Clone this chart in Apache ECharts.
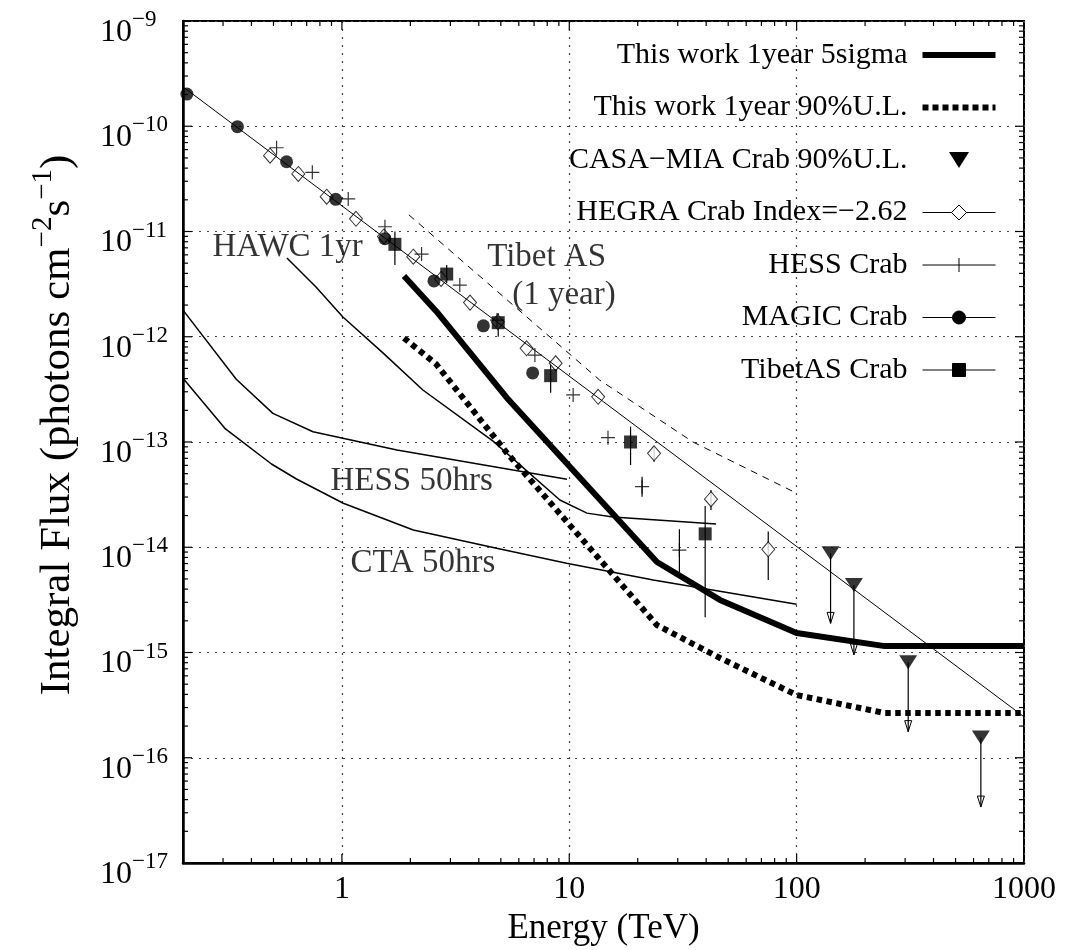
<!DOCTYPE html>
<html><head><meta charset="utf-8">
<script src="https://cdn.jsdelivr.net/npm/echarts@6/dist/echarts.min.js"></script>
<style>html,body{margin:0;padding:0;background:#fff}#c{width:1067px;height:950px}</style>
</head><body><div id="c"></div>
<script>
const FONT = 'Liberation Serif';

// ---- tick labels ----
const xTickLabels = ['1', '10', '100', '1000'];          // 10^0 .. 10^3
const yTickExps = ['−17','−16','−15','−14','−13','−12','−11','−10','−9'];

// ---- curves [E (TeV), flux] ----
const crabFit = [[0.2, 2.37e-10], [1000, 2.45e-16]];
const tibetAS1yr = [[1.97, 1.44e-11], [13.6, 3.88e-13], [35.0, 1.0e-13], [100, 3.26e-14]];
const work5sigma = [[1.875, 3.78e-12], [2.593, 1.76e-12], [5.32, 2.62e-13], [24.3, 7.24e-15], [46.0, 3.16e-15], [100, 1.53e-15], [244, 1.15e-15], [1000, 1.15e-15]];
const work90UL = [[1.875, 9.72e-13], [2.593, 5.51e-13], [5.32, 7.86e-14], [24.3, 1.82e-15], [46.0, 8.87e-16], [100, 3.94e-16], [244, 2.66e-16], [1000, 2.66e-16]];
const hawc1yr = [[0.573, 5.6e-12], [0.769, 2.97e-12], [1.01, 1.54e-12], [1.515, 7.02e-13], [2.27, 3.12e-13], [4.62, 1.02e-13], [9.09, 2.81e-14], [11.96, 2.11e-14], [15.56, 1.94e-14], [44.2, 1.66e-14]];
const hess50h = [[0.2, 1.79e-12], [0.343, 3.94e-13], [0.497, 1.87e-13], [0.746, 1.25e-13], [1.746, 8.39e-14], [5.65, 5.42e-14], [9.77, 4.43e-14]];
const cta50h = [[0.2, 4.03e-13], [0.3075, 1.33e-13], [0.49, 6.18e-14], [0.631, 4.45e-14], [1.014, 2.62e-14], [2.06, 1.46e-14], [4.79, 9.77e-15], [9.73, 7.05e-15], [23.4, 4.89e-15], [100, 2.87e-15]];

// ---- measurements ----
const hegraE = [0.483, 0.643, 0.857, 1.153, 1.53, 2.06, 2.73, 3.66, 4.85, 6.49, 8.71, 13.4, 23.6, 42.0, 75.0];
const hegraF = [5.25e-11, 3.52e-11, 2.14e-11, 1.32e-11, 8.98e-12, 5.77e-12, 3.54e-12, 2.11e-12, 1.38e-12, 7.77e-13, 5.6e-13, 2.69e-13, 7.8e-14, 2.86e-14, 9.55e-15];
const hegraErrE = [23.6, 42.0, 75.0];
const hegraErrLo = [6.5e-14, 2.26e-14, 4.89e-15];
const hegraErrHi = [9.0e-14, 3.5e-14, 1.41e-14];

const hessE = [0.516, 0.741, 1.066, 1.546, 2.24, 3.30, 4.81, 7.06, 10.4, 14.8, 20.9, 30.5];
const hessF = [6.25e-11, 3.65e-11, 2.04e-11, 1.11e-11, 6.1e-12, 3.1e-12, 1.44e-12, 6.7e-13, 2.8e-13, 1.1e-13, 3.76e-14, 9.4e-15];
const hessErrE = [20.9, 30.5];
const hessErrLo = [3.02e-14, 5.73e-15];
const hessErrHi = [4.68e-14, 1.48e-14];

const magicE = [0.208, 0.347, 0.571, 0.939, 1.545, 2.54, 4.19, 6.90];
const magicF = [2.02e-10, 9.9e-11, 4.6e-11, 2.02e-11, 8.55e-12, 3.39e-12, 1.27e-12, 4.53e-13];

const tibetE = [1.71, 2.89, 4.87, 8.28, 18.6, 39.6];
const tibetF = [7.55e-12, 3.94e-12, 1.36e-12, 4.27e-13, 1.0e-13, 1.34e-14];
const tibetLo = [4.81e-12, 3.24e-12, 1.0e-12, 2.94e-13, 6.04e-14, 2.16e-15];
const tibetHi = [1.0e-11, 4.81e-12, 1.67e-12, 5.8e-13, 1.4e-13, 2.47e-14];

const casaE = [141, 178.6, 309.5, 646];
const casaF = [8.77e-15, 4.37e-15, 8.07e-16, 1.56e-16];
const casaArrowTo = [1.89e-15, 9.5e-16, 1.77e-16, 3.4e-17];

// ---- annotations ----
const noteText = ['HAWC 1yr', 'Tibet AS', '(1 year)', 'HESS 50hrs', 'CTA 50hrs'];
const noteE = [0.268, 4.33, 5.58, 0.886, 1.085];
const noteF = [7.13e-12, 5.66e-12, 2.49e-12, 4.2e-14, 7.04e-15];

// ---- legend names ----
const N1 = 'This work 1year 5sigma';
const N2 = 'This work 1year 90%U.L.';
const N3 = 'CASA−MIA Crab 90%U.L.';
const N4 = 'HEGRA Crab Index=−2.62';
const N5 = 'HESS Crab';
const N6 = 'MAGIC Crab';
const N7 = 'TibetAS Crab';

const X0 = 0.2, X1 = 1000, Y0 = 1e-17, Y1 = 1e-9;

// axis tick decorations (log minor ticks)
const xTickMarks = [];
for (let d = -1; d <= 2; d++) for (let k = 1; k <= 9; k++) {
  const v = k * Math.pow(10, d);
  if (v > X0 * 1.0001 && v < X1 * 0.9999) xTickMarks.push([v, Y0, k === 1 ? 9 : 5]);
}
const yTickMarks = [];
for (let d = -17; d <= -10; d++) for (let k = 1; k <= 9; k++) {
  const v = k * Math.pow(10, d);
  if (v > Y0 * 1.0001 && v < Y1 * 0.9999) yTickMarks.push([X0, v, k === 1 ? 9 : 5]);
}

const zip = (a, b) => a.map((v, i) => [v, b[i]]);
const zip3 = (a, b, c) => a.map((v, i) => [v, b[i], c[i]]);

function errRender(params, api) {
  const x = api.value(0);
  const p1 = api.coord([x, api.value(1)]), p2 = api.coord([x, api.value(2)]);
  return {type: 'line', shape: {x1: p1[0], y1: p1[1], x2: p2[0], y2: p2[1]}, style: {stroke: '#000', lineWidth: 1.2}};
}
function arrowRender(params, api) {
  const x = api.value(0);
  const p1 = api.coord([x, api.value(1)]), p2 = api.coord([x, api.value(2)]);
  return {type: 'group', children: [
    {type: 'line', shape: {x1: p1[0], y1: p1[1], x2: p2[0], y2: p2[1]}, style: {stroke: '#000', lineWidth: 1.2}},
    {type: 'polygon', shape: {points: [[p2[0] - 3.5, p2[1] - 11], [p2[0] + 3.5, p2[1] - 11], [p2[0], p2[1]]]}, style: {fill: 'none', stroke: '#000', lineWidth: 1}}
  ]};
}

const thin = (name, data, w, type) => ({
  name, type: 'line', data, showSymbol: false, symbol: 'none', silent: true,
  lineStyle: {color: '#000', width: w, type: type || 'solid'}
});

const option = {
  animation: false,
  backgroundColor: '#fff',
  textStyle: {fontFamily: FONT},
  grid: {left: 183, right: 43, top: 21, bottom: 87, show: true, borderColor: '#000', borderWidth: 2, containLabel: false, outerBoundsMode: 'none'},
  xAxis: {
    type: 'log', logBase: 10, min: X0, max: X1,
    name: 'Energy (TeV)', nameLocation: 'middle', nameGap: 46,
    nameTextStyle: {fontFamily: FONT, fontSize: 35, color: '#000'},
    axisLine: {show: true, onZero: false, lineStyle: {color: '#000', width: 2.5}},
    axisTick: {show: false}, minorTick: {show: false},
    splitLine: {show: true, lineStyle: {color: '#444', width: 1.2, type: [2, 6]}},
    axisLabel: {
      fontFamily: FONT, fontSize: 32, color: '#000', margin: 11,
      formatter: v => { const l = Math.log10(v), e = Math.round(l); return (Math.abs(l - e) < 1e-6 && e >= 0 && e < xTickLabels.length) ? xTickLabels[e] : ''; }
    }
  },
  yAxis: {
    type: 'log', logBase: 10, min: Y0, max: Y1,
    name: '{b|Integral Flux (photons cm}{s|−2}{b|s}{s|−1}{b|)}', nameLocation: 'middle', nameGap: 104, nameRotate: 90,
    nameTextStyle: {fontFamily: FONT, color: '#000', padding: [0, 0, 0, 34], rich: {
      b: {fontFamily: FONT, fontSize: 43, color: '#000', lineHeight: 50, verticalAlign: 'bottom'},
      s: {fontFamily: FONT, fontSize: 29, color: '#000', lineHeight: 17, verticalAlign: 'top'}
    }},
    axisLine: {show: true, onZero: false, lineStyle: {color: '#000', width: 2.5}},
    axisTick: {show: false}, minorTick: {show: false},
    splitLine: {show: true, lineStyle: {color: '#444', width: 1.2, type: [2, 6]}},
    axisLabel: {
      align: 'left', margin: 83, color: '#000', padding: [15, 0, 0, 0],
      formatter: v => { const e = Math.round(Math.log10(v)); return '{b|10}{s|' + yTickExps[e + 17] + '}'; },
      rich: {
        b: {fontFamily: FONT, fontSize: 32, color: '#000', lineHeight: 40, verticalAlign: 'bottom'},
        s: {fontFamily: FONT, fontSize: 23, color: '#000', lineHeight: 14, verticalAlign: 'top'}
      }
    }
  },
  legend: {
    orient: 'vertical', right: 71, top: 40, align: 'right', padding: 0, itemGap: 22.5,
    itemWidth: 73, itemHeight: 16, selectedMode: false,
    textStyle: {fontFamily: FONT, fontSize: 30, color: '#000', lineHeight: 30, padding: [0, 10, 0, 0]},
    data: [
      {name: N1, icon: 'path://M0,0L73,0L73,6L0,6Z', itemStyle: {color: '#000', borderColor: '#000', borderWidth: 0, opacity: 1}},
      {name: N2, icon: 'path://M0,0L6,0L6,6L0,6Z M10,0L16,0L16,6L10,6Z M20,0L26,0L26,6L20,6Z M30,0L36,0L36,6L30,6Z M40,0L46,0L46,6L40,6Z M50,0L56,0L56,6L50,6Z M60,0L66,0L66,6L60,6Z M70,0L73,0L73,6L70,6Z', itemStyle: {color: '#000', borderColor: '#000', borderWidth: 0, opacity: 1}},
      {name: N3, icon: 'path://M0,0L20,0L10,16Z', itemStyle: {color: '#000', borderColor: '#000', borderWidth: 0, opacity: 1}},
      {name: N4, icon: 'path://M0,8L29,8M44,8L73,8M36.5,0.5L44,8L36.5,15.5L29,8Z', itemStyle: {color: '#fff', borderColor: '#000', borderWidth: 1, opacity: 1}},
      {name: N5, icon: 'path://M0,8L73,8M36.5,1L36.5,15', itemStyle: {color: 'rgba(0,0,0,0)', borderColor: '#000', borderWidth: 1, opacity: 1}},
      {name: N6, icon: 'path://M0,8L30,8M43,8L73,8M30,8A6.5,6.5 0 1 1 43,8A6.5,6.5 0 1 1 30,8Z', itemStyle: {color: '#000', borderColor: '#000', borderWidth: 1, opacity: 1}},
      {name: N7, icon: 'path://M0,8L30,8M43,8L73,8M30,1.5L43,1.5L43,14.5L30,14.5Z', itemStyle: {color: '#000', borderColor: '#000', borderWidth: 1, opacity: 1}}
    ]
  },
  series: [
    thin('crabFit', crabFit, 1),
    thin('tibetAS1yr', tibetAS1yr, 1, [7, 6]),
    thin('hawc', hawc1yr, 1.5),
    thin('hess50', hess50h, 1.5),
    thin('cta50', cta50h, 1.5),
    {name: N2, type: 'line', data: work90UL, showSymbol: false, symbol: 'none', silent: true,
     lineStyle: {color: '#000', width: 6, type: [5.5, 4.5], cap: 'butt', join: 'miter'}},
    {name: N1, type: 'line', data: work5sigma, showSymbol: false, symbol: 'none', silent: true,
     lineStyle: {color: '#000', width: 6, cap: 'butt', join: 'round'}},
    {name: N4, type: 'scatter', data: zip(hegraE, hegraF), symbol: 'diamond', symbolSize: [13, 15], silent: true,
     itemStyle: {color: '#fff', borderColor: '#000', borderWidth: 1}},
    {name: 'hegraErr', type: 'custom', silent: true, data: zip3(hegraErrE, hegraErrLo, hegraErrHi), encode: {x: 0, y: [1, 2]}, renderItem: errRender},
    {name: N5, type: 'scatter', data: zip(hessE, hessF), symbol: 'path://M0,7L14,7M7,0L7,14', symbolSize: 14, silent: true,
     itemStyle: {color: 'rgba(0,0,0,0)', borderColor: '#000', borderWidth: 1.2}},
    {name: 'hessErr', type: 'custom', silent: true, data: zip3(hessErrE, hessErrLo, hessErrHi), encode: {x: 0, y: [1, 2]}, renderItem: errRender},
    {name: N6, type: 'scatter', data: zip(magicE, magicF), symbol: 'circle', symbolSize: 13, silent: true, itemStyle: {color: '#000'}},
    {name: 'tibetErr', type: 'custom', silent: true, data: zip3(tibetE, tibetLo, tibetHi), encode: {x: 0, y: [1, 2]}, renderItem: errRender},
    {name: N7, type: 'scatter', data: zip(tibetE, tibetF), symbol: 'rect', symbolSize: 13, silent: true, itemStyle: {color: '#000'}},
    {name: 'casaArrow', type: 'custom', silent: true, data: zip3(casaE, casaF, casaArrowTo), encode: {x: 0, y: [1, 2]}, renderItem: arrowRender},
    {name: N3, type: 'scatter', data: zip(casaE, casaF), symbol: 'path://M0,0L18,0L9,14Z', symbolSize: [18, 14], silent: true, itemStyle: {color: '#000'}},
    {name: 'notes', type: 'scatter', silent: true, symbolSize: 1, itemStyle: {color: 'rgba(0,0,0,0)'},
     data: noteText.map((t, i) => ({name: t, value: [noteE[i], noteF[i]]})),
     label: {show: true, position: 'right', distance: 0, formatter: '{b}', fontFamily: FONT, fontSize: 33, color: '#000'}},
    {name: 'xticks', type: 'custom', silent: true, data: xTickMarks, encode: {x: 0, y: 1},
     renderItem: (params, api) => {
       const v = api.value(0), len = api.value(2);
       const b = api.coord([v, Y0]), t = api.coord([v, Y1]);
       return {type: 'group', children: [
         {type: 'line', shape: {x1: b[0], y1: b[1], x2: b[0], y2: b[1] - len}, style: {stroke: '#000', lineWidth: 1.2}},
         {type: 'line', shape: {x1: t[0], y1: t[1], x2: t[0], y2: t[1] + len}, style: {stroke: '#000', lineWidth: 1.2}}
       ]};
     }},
    {name: 'yticks', type: 'custom', silent: true, data: yTickMarks, encode: {x: 0, y: 1},
     renderItem: (params, api) => {
       const v = api.value(1), len = api.value(2);
       const l = api.coord([X0, v]), r = api.coord([X1, v]);
       return {type: 'group', children: [
         {type: 'line', shape: {x1: l[0], y1: l[1], x2: l[0] + len, y2: l[1]}, style: {stroke: '#000', lineWidth: 1.2}},
         {type: 'line', shape: {x1: r[0], y1: r[1], x2: r[0] - len, y2: r[1]}, style: {stroke: '#000', lineWidth: 1.2}}
       ]};
     }}
  ]
};

const chart = echarts.init(document.getElementById('c'), null, {renderer: 'canvas'});
chart.setOption(option);
</script>
</body></html>
